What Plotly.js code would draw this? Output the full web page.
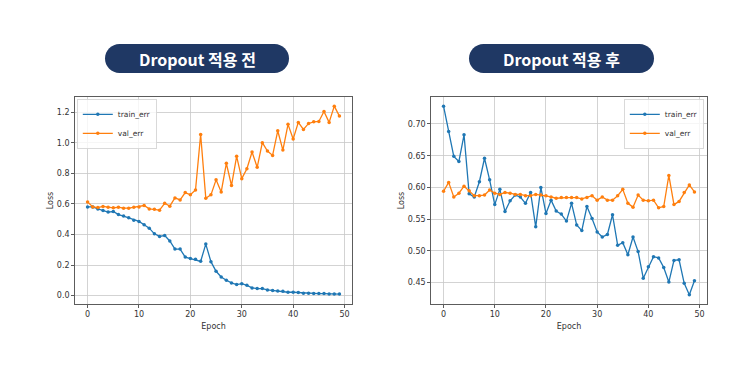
<!DOCTYPE html>
<html>
<head>
<meta charset="utf-8">
<script src="https://cdn.plot.ly/plotly-3.0.1.min.js"></script>
<style>html,body{margin:0;padding:0;background:#fff;}#chart{width:743px;height:371px;}</style>
</head>
<body>
<div id="chart"></div>
<script>
const epochs = Array.from({length: 50}, (_, i) => i);
const seriesNames = ["train_err", "val_err"];
const panelTitles = ["Dropout 적용 전", "Dropout 적용 후"];
const xTickVals = [0, 10, 20, 30, 40, 50];
const leftYTicks = [0.0, 0.2, 0.4, 0.6, 0.8, 1.0, 1.2];
const leftYTickText = ["0.0", "0.2", "0.4", "0.6", "0.8", "1.0", "1.2"];
const rightYTicks = [0.45, 0.50, 0.55, 0.60, 0.65, 0.70];
const rightYTickText = ["0.45", "0.50", "0.55", "0.60", "0.65", "0.70"];

const beforeTrain = [0.580,0.580,0.567,0.556,0.546,0.550,0.530,0.520,0.509,0.493,
  0.485,0.463,0.441,0.404,0.387,0.393,0.357,0.304,0.304,0.252,
  0.243,0.237,0.224,0.337,0.222,0.159,0.122,0.100,0.083,0.072,
  0.078,0.067,0.050,0.046,0.046,0.037,0.033,0.030,0.028,0.022,
  0.022,0.020,0.015,0.015,0.013,0.013,0.013,0.011,0.011,0.010];
const beforeVal = [0.613,0.580,0.576,0.583,0.578,0.574,0.578,0.572,0.572,0.578,
  0.580,0.589,0.567,0.565,0.559,0.604,0.585,0.639,0.626,0.674,
  0.659,0.691,1.054,0.637,0.659,0.757,0.678,0.865,0.720,0.911,
  0.765,0.830,0.939,0.839,1.000,0.946,0.917,1.078,0.952,1.120,
  1.024,1.133,1.087,1.126,1.137,1.139,1.204,1.133,1.239,1.174];
const afterTrain = [0.728,0.688,0.649,0.641,0.683,0.590,0.585,0.609,0.646,0.612,
  0.573,0.597,0.562,0.579,0.588,0.585,0.575,0.592,0.538,0.600,
  0.559,0.580,0.563,0.558,0.547,0.575,0.541,0.532,0.570,0.551,
  0.530,0.522,0.526,0.557,0.509,0.513,0.494,0.522,0.499,0.457,
  0.475,0.491,0.489,0.474,0.451,0.485,0.486,0.449,0.431,0.453];
const afterVal = [0.594,0.608,0.585,0.591,0.602,0.595,0.587,0.587,0.588,0.596,
  0.591,0.589,0.592,0.591,0.589,0.589,0.587,0.587,0.589,0.588,
  0.587,0.585,0.583,0.584,0.584,0.584,0.584,0.582,0.584,0.587,
  0.580,0.585,0.580,0.580,0.587,0.597,0.575,0.569,0.588,0.580,
  0.579,0.580,0.568,0.570,0.619,0.573,0.578,0.592,0.604,0.593];

const W = 743, H = 371;
const px = x => x / W;
const py = y => 1 - y / H;
const colors = ["#1f77b4", "#ff7f0e"];

function trace(y, i, xa, ya, leg) {
  return {
    x: epochs, y: y, name: seriesNames[i], type: "scatter", mode: "lines+markers",
    xaxis: xa, yaxis: ya, legend: leg,
    line: {color: colors[i], width: 1.3},
    marker: {color: colors[i], size: 3.5, symbol: "circle"}
  };
}

const data = [
  trace(beforeTrain, 0, "x", "y", "legend"),
  trace(beforeVal, 1, "x", "y", "legend"),
  trace(afterTrain, 0, "x2", "y2", "legend2"),
  trace(afterVal, 1, "x2", "y2", "legend2")
];

const tickFont = {family: "DejaVu Sans", size: 8, color: "#333"};
function xaxis(domain, anchor) {
  return {
    domain: domain, anchor: anchor, range: [-2.45, 51.45],
    tickvals: xTickVals, ticks: "outside", ticklen: 3, tickwidth: 0.8, tickcolor: "#333",
    showline: true, mirror: true, linecolor: "#333", linewidth: 0.8,
    showgrid: true, gridcolor: "#c8c8c8", gridwidth: 0.8, zeroline: false,
    tickfont: tickFont,
    title: {text: "Epoch", font: {family: "DejaVu Sans", size: 8, color: "#333"}, standoff: 4}
  };
}
function yaxis(domain, anchor, range, tv, tt) {
  return {
    domain: domain, anchor: anchor, range: range,
    tickvals: tv, ticktext: tt, ticks: "outside", ticklen: 3, tickwidth: 0.8, tickcolor: "#333",
    showline: true, mirror: true, linecolor: "#333", linewidth: 0.8,
    showgrid: true, gridcolor: "#c8c8c8", gridwidth: 0.8, zeroline: false,
    tickfont: tickFont,
    title: {text: "Loss", font: {family: "DejaVu Sans", size: 8, color: "#333"}, standoff: 1}
  };
}

const yDom = [py(304), py(97)];

function pill(x0, x1, y0, y1) {
  const r = (y1 - y0) / 2;
  const k = 0.5523 * r;
  const P = (x, y) => px(x) + "," + py(y);
  return "M" + P(x0 + r, y0) + " L" + P(x1 - r, y0) +
    " C" + P(x1 - r + k, y0) + " " + P(x1, y0 + r - k) + " " + P(x1, y0 + r) +
    " C" + P(x1, y0 + r + k) + " " + P(x1 - r + k, y1) + " " + P(x1 - r, y1) +
    " L" + P(x0 + r, y1) +
    " C" + P(x0 + r - k, y1) + " " + P(x0, y0 + r + k) + " " + P(x0, y0 + r) +
    " C" + P(x0, y0 + r - k) + " " + P(x0 + r - k, y0) + " " + P(x0 + r, y0) + " Z";
}

const badges = [[105, 289], [469, 654]];
const legendBase = {
  bgcolor: "rgba(255,255,255,0.8)", bordercolor: "#d0d0d0", borderwidth: 0.8,
  font: {family: "DejaVu Sans", size: 7.5, color: "#333"}, itemwidth: 30, tracegroupgap: 0,
  yanchor: "top"
};

const layout = {
  width: W, height: H,
  margin: {l: 0, r: 0, t: 0, b: 0},
  paper_bgcolor: "#fff", plot_bgcolor: "#fff",
  showlegend: true,
  xaxis: xaxis([px(75), px(352)], "y"),
  yaxis: yaxis(yDom, "x", [-0.055, 1.299], leftYTicks, leftYTickText),
  xaxis2: xaxis([px(431), px(707)], "y2"),
  yaxis2: yaxis(yDom, "x2", [0.4164, 0.7425], rightYTicks, rightYTickText),
  legend: Object.assign({}, legendBase, {x: px(77), y: py(99), xanchor: "left"}),
  legend2: Object.assign({}, legendBase, {x: px(704), y: py(99), xanchor: "right"}),
  shapes: badges.map(b => ({
    type: "path", xref: "paper", yref: "paper", path: pill(b[0], b[1], 44, 73),
    fillcolor: "#1f3864", line: {width: 0}, layer: "above"
  })),
  annotations: badges.map((b, i) => ({
    xref: "paper", yref: "paper", x: px((b[0] + b[1]) / 2), y: py(58.5),
    xanchor: "center", yanchor: "middle", showarrow: false,
    text: "<b>" + panelTitles[i] + "</b>",
    font: {family: "Noto Sans CJK KR", size: 16, color: "#ffffff"}
  }))
};

Plotly.newPlot("chart", data, layout, {displayModeBar: false, staticPlot: true});
</script>
</body>
</html>
